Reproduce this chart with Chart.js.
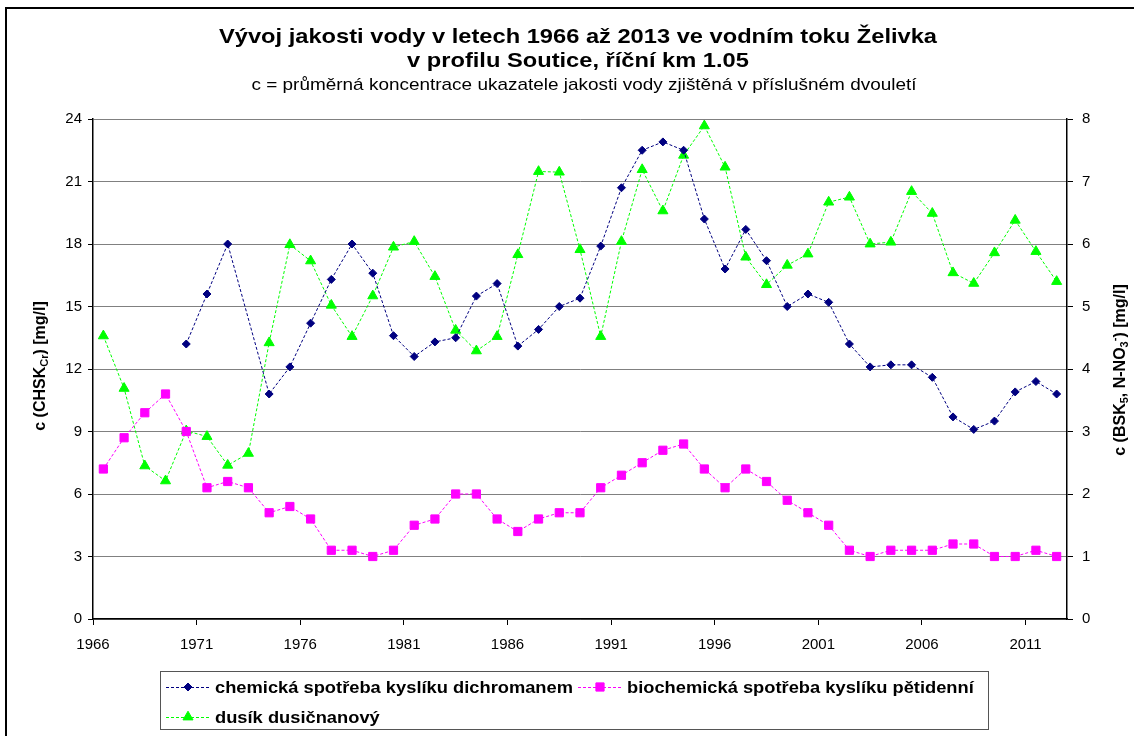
<!DOCTYPE html>
<html><head><meta charset="utf-8">
<script src="https://cdn.jsdelivr.net/npm/chart.js@4/dist/chart.umd.min.js"></script>
<style>html,body{margin:0;padding:0;background:#fff;}#wrap{position:relative;width:1134px;height:736px;}</style>
</head><body><div id="wrap"><canvas id="c" width="1134" height="736"></canvas></div>
<script>
const FONT = "'Liberation Sans', Arial, sans-serif";
const titleLines = ['Vývoj jakosti vody v letech 1966 až 2013 ve vodním toku Želivka', 'v profilu Soutice, říční km 1.05'];
const subtitleText = 'c = průměrná koncentrace ukazatele jakosti vody zjištěná v příslušném dvouletí';
const seriesNames = ['chemická spotřeba kyslíku dichromanem', 'biochemická spotřeba kyslíku pětidenní', 'dusík dusičnanový'];
const xTickLabels = [1966, 1971, 1976, 1981, 1986, 1991, 1996, 2001, 2006, 2011];
const leftTickLabels = [0, 3, 6, 9, 12, 15, 18, 21, 24];
const rightTickLabels = [0, 1, 2, 3, 4, 5, 6, 7, 8];
// midpoints of the years (one point per year)
const years = [1966.5,1967.5,1968.5,1969.5,1970.5,1971.5,1972.5,1973.5,1974.5,1975.5,1976.5,1977.5,1978.5,1979.5,1980.5,1981.5,
  1982.5,1983.5,1984.5,1985.5,1986.5,1987.5,1988.5,1989.5,1990.5,1991.5,1992.5,1993.5,1994.5,1995.5,1996.5,1997.5,
  1998.5,1999.5,2000.5,2001.5,2002.5,2003.5,2004.5,2005.5,2006.5,2007.5,2008.5,2009.5,2010.5,2011.5,2012.5];
// CHSK-Cr [mg/l] (left axis)
const chsk = [null,null,null,null,13.2,15.6,18.0,null,10.8,12.1,14.2,16.3,18.0,16.6,13.6,12.6,
  13.3,13.5,15.5,16.1,13.1,13.9,15.0,15.4,17.9,20.7,22.5,22.9,22.5,19.2,16.8,18.7,
  17.2,15.0,15.6,15.2,13.2,12.1,12.2,12.2,11.6,9.7,9.1,9.5,10.9,11.4,10.8];
// BSK5 [mg/l] (right axis)
const bsk5 = [2.4,2.9,3.3,3.6,3.0,2.1,2.2,2.1,1.7,1.8,1.6,1.1,1.1,1.0,1.1,1.5,
  1.6,2.0,2.0,1.6,1.4,1.6,1.7,1.7,2.1,2.3,2.5,2.7,2.8,2.4,2.1,2.4,
  2.2,1.9,1.7,1.5,1.1,1.0,1.1,1.1,1.1,1.2,1.2,1.0,1.0,1.1,1.0];
// N-NO3 [mg/l] (right axis)
const nno3 = [4.53,3.69,2.45,2.21,3.01,2.92,2.46,2.65,4.42,5.99,5.73,5.02,4.52,5.17,5.95,6.04,
  5.48,4.62,4.29,4.52,5.83,7.16,7.15,5.91,4.52,6.04,7.19,6.53,7.42,7.89,7.23,5.79,
  5.35,5.66,5.84,6.67,6.75,6.00,6.03,6.84,6.49,5.54,5.37,5.86,6.38,5.88,5.40];

const colors = ['#000080', '#FF00FF', '#00FF00'];
const styles = ['rectRot', 'rect', 'triangle'];
const radii = [4, 5.8, 5.8];

function pts(arr) { return years.map((x, i) => ({x: x, y: arr[i]})); }

function ds(i, arr, axis) {
  return {
    label: seriesNames[i], data: pts(arr), yAxisID: axis,
    borderColor: colors[i], backgroundColor: colors[i], borderWidth: 1, borderDash: [3, 2],
    pointStyle: styles[i], pointRadius: radii[i], pointBorderWidth: 1,
    pointBackgroundColor: colors[i], pointBorderColor: colors[i],
    spanGaps: true, tension: 0, fill: false
  };
}

function drawRich(ctx, segs, cx, cy) {
  ctx.save();
  ctx.translate(cx, cy);
  ctx.rotate(-Math.PI / 2);
  let total = 0;
  segs.forEach(s => { ctx.font = s.f; s.w = ctx.measureText(s.t).width; total += s.w; });
  let x = -total / 2;
  ctx.fillStyle = '#000';
  ctx.textBaseline = 'middle';
  ctx.textAlign = 'left';
  segs.forEach(s => { ctx.font = s.f; ctx.fillText(s.t, x, s.dy || 0); x += s.w; });
  ctx.restore();
}

function stretchText(ctx, text, x, y, sx, align) {
  ctx.save();
  ctx.translate(x, y);
  ctx.scale(sx, 1);
  ctx.textAlign = align;
  ctx.fillText(text, 0, 0);
  ctx.restore();
}

const decor = {
  id: 'decor',
  beforeDraw(chart) {
    const ctx = chart.ctx;
    ctx.save();
    ctx.fillStyle = '#fff';
    ctx.fillRect(0, 0, chart.width, chart.height);
    ctx.strokeStyle = '#000';
    ctx.lineWidth = 2;
    ctx.beginPath();
    ctx.moveTo(6, 736); ctx.lineTo(6, 8); ctx.lineTo(1134, 8);
    ctx.stroke();
    ctx.restore();
  },
  afterDraw(chart) {
    const ctx = chart.ctx;
    ctx.save();
    ctx.fillStyle = '#000';
    ctx.textBaseline = 'middle';
    ctx.font = 'bold 21px ' + FONT;
    const st = 718 / ctx.measureText(titleLines[0]).width;
    stretchText(ctx, titleLines[0], 578, 37, st, 'center');
    stretchText(ctx, titleLines[1], 578, 61, st, 'center');
    ctx.font = '17px ' + FONT;
    const ss = 665 / ctx.measureText(subtitleText).width;
    stretchText(ctx, subtitleText, 584, 85, ss, 'center');
    ctx.restore();

    const B = 'bold 16px ' + FONT, S = 'bold 11px ' + FONT;
    drawRich(ctx, [{t: 'c (CHSK', f: B}, {t: 'Cr', f: S, dy: 4}, {t: ') [mg/l]', f: B}], 41, 366);
    drawRich(ctx, [{t: 'c (BSK', f: B}, {t: '5', f: S, dy: 4}, {t: ', N-NO', f: B}, {t: '3', f: S, dy: 4}, {t: '-', f: S, dy: -6}, {t: ') [mg/l]', f: B}], 1121, 370);

    // legend
    ctx.save();
    ctx.strokeStyle = '#555';
    ctx.lineWidth = 1;
    ctx.strokeRect(160.5, 671.5, 828, 58);
    ctx.font = 'bold 17px ' + FONT;
    const sl = 358 / ctx.measureText(seriesNames[0]).width;
    const items = [{i: 0, x: 166, y: 687}, {i: 1, x: 578, y: 687}, {i: 2, x: 166, y: 717}];
    items.forEach(it => {
      const c = colors[it.i];
      ctx.strokeStyle = c; ctx.fillStyle = c; ctx.lineWidth = 1;
      ctx.setLineDash([3, 2]);
      ctx.beginPath(); ctx.moveTo(it.x, it.y + 0.5); ctx.lineTo(it.x + 43, it.y + 0.5); ctx.stroke();
      ctx.setLineDash([]);
      Chart.helpers.drawPoint(ctx, {pointStyle: styles[it.i], radius: radii[it.i], borderWidth: 1, rotation: 0}, it.x + 22, it.y);
      ctx.fillStyle = '#000';
      ctx.font = 'bold 17px ' + FONT;
      ctx.textBaseline = 'middle';
      stretchText(ctx, seriesNames[it.i], it.x + 49, it.y + 1, sl, 'left');
    });
    ctx.restore();
  }
};

const tickFont = {family: FONT, size: 15};
new Chart(document.getElementById('c'), {
  type: 'line',
  data: {datasets: [ds(0, chsk, 'yL'), ds(1, bsk5, 'yR'), ds(2, nno3, 'yR')]},
  options: {
    responsive: false, animation: false, devicePixelRatio: 1,
    layout: {padding: {top: 119, bottom: 0, left: 0, right: 0}},
    plugins: {legend: {display: false}, title: {display: false}, tooltip: {enabled: false}},
    scales: {
      x: {
        type: 'linear', min: 1966, max: 2013,
        afterBuildTicks: s => { s.ticks = xTickLabels.map(v => ({value: v})); },
        afterFit: s => { s.height = 117; },
        ticks: {font: tickFont, color: '#000', padding: 11, maxRotation: 0, autoSkip: false, callback: v => String(v)},
        grid: {drawOnChartArea: false, drawTicks: true, tickLength: 6, tickColor: '#000'},
        border: {color: '#000', width: 1.5}
      },
      yL: {
        type: 'linear', position: 'left', min: 0, max: 24,
        afterBuildTicks: s => { s.ticks = leftTickLabels.map(v => ({value: v})); },
        afterFit: s => { s.width = 93; },
        ticks: {font: tickFont, color: '#000', padding: 6, callback: v => String(v)},
        grid: {color: '#808080', lineWidth: 1, tickLength: 5, tickColor: '#000'},
        border: {color: '#000', width: 1.5}
      },
      yR: {
        type: 'linear', position: 'right', min: 0, max: 8,
        afterBuildTicks: s => { s.ticks = rightTickLabels.map(v => ({value: v})); },
        afterFit: s => { s.width = 67; },
        ticks: {font: tickFont, color: '#000', padding: 9, callback: v => String(v)},
        grid: {drawOnChartArea: false, tickLength: 6, tickColor: '#000'},
        border: {color: '#000', width: 1.5}
      }
    }
  },
  plugins: [decor]
});
</script></body></html>
